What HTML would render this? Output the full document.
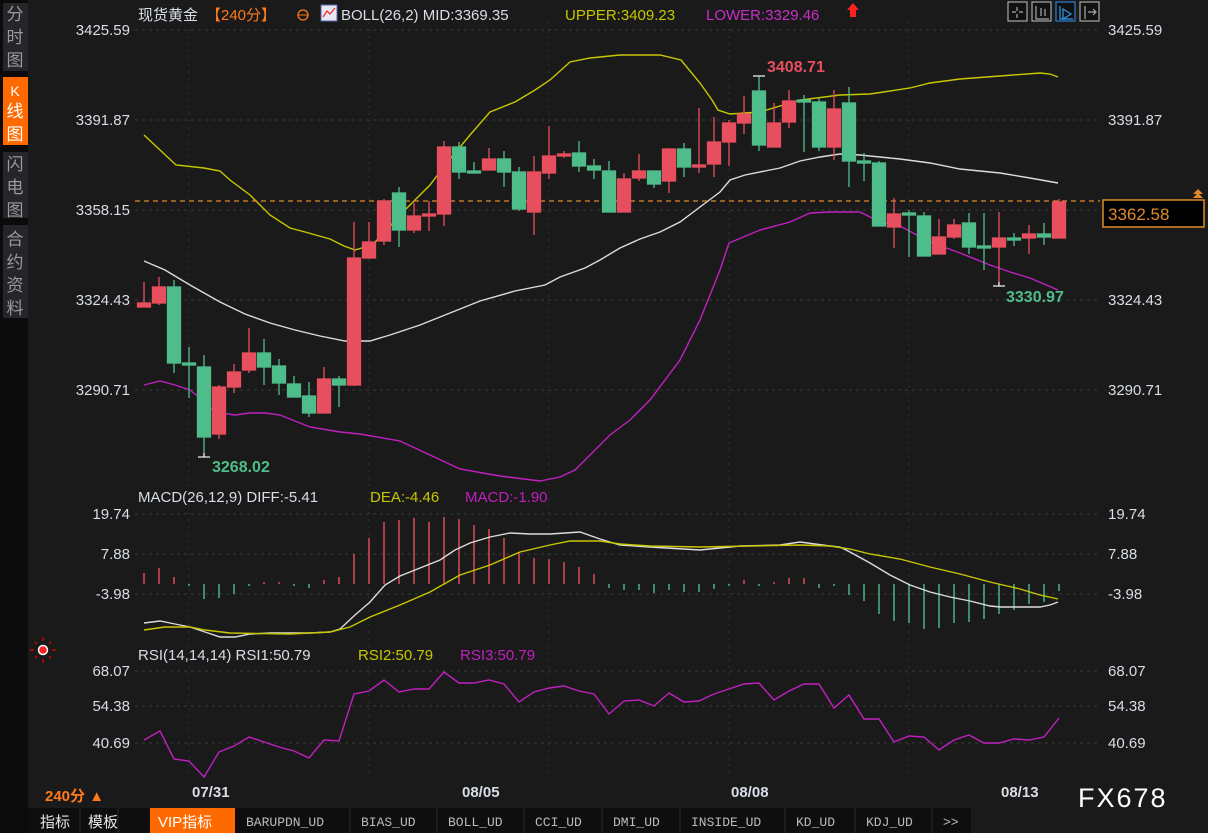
<!DOCTYPE html>
<html><head><meta charset="utf-8"><style>
html,body{margin:0;padding:0;background:#1a1a1a;width:1208px;height:833px;overflow:hidden}
body{font-family:"Liberation Sans","Noto Sans CJK SC",sans-serif}
</style></head><body>
<svg width="1208" height="833" xmlns="http://www.w3.org/2000/svg" style="position:absolute;left:0;top:0" font-family="Liberation Sans, Noto Sans CJK SC, sans-serif">
<rect width="1208" height="833" fill="#1a1a1a"/>
<rect x="0" y="0" width="28" height="833" fill="#0b0b0b"/>
<rect x="3" y="3" width="25" height="68" fill="#25262a"/>
<rect x="3" y="77" width="25" height="68" fill="#ff6a00"/>
<rect x="3" y="152" width="25" height="66" fill="#25262a"/>
<rect x="3" y="225" width="25" height="93" fill="#25262a"/>
<g font-size="17" fill="#9a9a9a" text-anchor="middle">
<text x="15" y="20">分</text><text x="15" y="43">时</text><text x="15" y="66">图</text>
<text x="15" y="96" fill="#fff" font-size="14">K</text><text x="15" y="117" fill="#fff">线</text><text x="15" y="140" fill="#fff">图</text>
<text x="15" y="170">闪</text><text x="15" y="193">电</text><text x="15" y="216">图</text>
<text x="15" y="245">合</text><text x="15" y="268">约</text><text x="15" y="291">资</text><text x="15" y="314">料</text>
</g>
<g stroke="#3a3a3a" stroke-width="1" stroke-dasharray="3,4">
<line x1="135" y1="30" x2="1100" y2="30"/><line x1="135" y1="120" x2="1100" y2="120"/><line x1="135" y1="210" x2="1100" y2="210"/><line x1="135" y1="300" x2="1100" y2="300"/><line x1="135" y1="390" x2="1100" y2="390"/>
<line x1="135" y1="514" x2="1100" y2="514"/><line x1="135" y1="554" x2="1100" y2="554"/><line x1="135" y1="594" x2="1100" y2="594"/>
<line x1="135" y1="671" x2="1100" y2="671"/><line x1="135" y1="706" x2="1100" y2="706"/><line x1="135" y1="743" x2="1100" y2="743"/>
</g>
<g stroke="#333" stroke-width="1" stroke-dasharray="2,5">
<line x1="189" y1="22" x2="189" y2="778"/><line x1="369" y1="22" x2="369" y2="778"/><line x1="549" y1="22" x2="549" y2="778"/><line x1="729" y1="22" x2="729" y2="778"/><line x1="909" y1="22" x2="909" y2="778"/>
</g>
<g font-size="15" fill="#d8dde6" text-anchor="end">
<text x="130" y="35">3425.59</text><text x="130" y="125">3391.87</text><text x="130" y="215">3358.15</text><text x="130" y="305">3324.43</text><text x="130" y="395">3290.71</text>
<text x="130" y="519">19.74</text><text x="130" y="559">7.88</text><text x="130" y="599">-3.98</text>
<text x="130" y="676">68.07</text><text x="130" y="711">54.38</text><text x="130" y="748">40.69</text>
</g>
<g font-size="15" fill="#d8dde6">
<text x="1108" y="35">3425.59</text><text x="1108" y="125">3391.87</text><text x="1108" y="305">3324.43</text><text x="1108" y="395">3290.71</text>
<text x="1108" y="519">19.74</text><text x="1108" y="559">7.88</text><text x="1108" y="599">-3.98</text>
<text x="1108" y="676">68.07</text><text x="1108" y="711">54.38</text><text x="1108" y="748">40.69</text>
</g>
<g font-size="15">
<text x="138" y="20" fill="#d8dde6">现货黄金</text>
<text x="206" y="20" fill="#ff7a1a">【240分】</text>
<circle cx="303" cy="15" r="5" fill="none" stroke="#ff7a1a" stroke-width="1.3"/><line x1="298" y1="15" x2="308" y2="15" stroke="#ff7a1a"/>
<rect x="321" y="5" width="16" height="16" fill="#e8e8f4" stroke="#5566aa"/><polyline points="323,17 327,11 330,14 335,8" fill="none" stroke="#e33" stroke-width="1.3"/>
<text x="341" y="20" fill="#d8dde6">BOLL(26,2) MID:3369.35</text>
<text x="565" y="20" fill="#c8c800">UPPER:3409.23</text>
<text x="706" y="20" fill="#c82fc8">LOWER:3329.46</text>
</g>
<path d="M853,3 L859,10 L856,10 L856,17 L850,17 L850,10 L847,10 Z" fill="#ff2020"/>
<g fill="none" stroke="#aaa" stroke-width="1.2">
<rect x="1008" y="2" width="19" height="19" fill="#111"/>
<rect x="1032" y="2" width="19" height="19" fill="#111"/>
<rect x="1056" y="2" width="19" height="19" fill="#111" stroke="#2f7ed8"/>
<rect x="1080" y="2" width="19" height="19" fill="#111"/>
<path d="M1017,7v4M1017,14v4M1012,12h4M1019,12h4"/>
<path d="M1036,6v13h13M1041,8v8M1045,9v7"/>
<path d="M1060,6v13h13M1063,9l8,5l-8,5z" stroke="#2f9be8"/>
<path d="M1085,6v13M1088,12h8M1093,9l3,3l-3,3"/>
</g>
<g fill="none" stroke-width="1.4">
<polyline stroke="#c8c800" points="144,135 176,165 204,168 220,171 230,180 250,195 260,205 270,215 290,228 305,232 330,239 344,246 355,250 365,247 375,242 385,232 400,215 415,200 430,185 445,165 470,135 490,112 515,102 535,90 550,80 570,62 590,58 620,55 660,55 681,60 700,83 712,100 718,110 730,114 760,112 800,100 840,95 870,94 910,88 930,83 960,79 1000,76 1040,73 1050,74 1058,77"/>
<polyline stroke="#dcdcdc" points="144,261 165,270 190,285 220,302 245,314 270,323 295,330 320,336 345,341 370,341 390,335 420,325 445,315 480,301 515,291 545,285 560,277 585,268 600,260 620,248 640,239 660,232 680,222 700,207 720,192 730,180 745,175 765,171 780,168 800,161 820,157 840,154 860,155 880,157 900,159 930,163 960,169 1000,173 1030,178 1058,183"/>
<polyline stroke="#c020c0" points="144,385 160,381 175,385 190,390 200,398 210,408 220,413 235,415 250,413 265,413 280,415 310,427 340,432 360,434 400,441 430,455 460,469 500,476 540,481 560,477 575,470 590,455 610,435 630,420 650,400 680,360 700,320 720,270 729,243 760,230 790,222 810,213 830,212 860,212 880,222 900,226 930,242 960,253 990,265 1010,272 1030,278 1058,290"/>
</g>
<line x1="135" y1="201" x2="1100" y2="201" stroke="#e08a2a" stroke-width="1.3" stroke-dasharray="5,4"/>
<g stroke-width="1.3">
<g stroke="#e84f5e" fill="#e84f5e">
<line x1="144" y1="282" x2="144" y2="307"/><rect x="137.5" y="303" width="13" height="4"/>
<line x1="159" y1="277" x2="159" y2="305"/><rect x="152.5" y="287" width="13" height="16"/>
<line x1="219" y1="385" x2="219" y2="439"/><rect x="212.5" y="387" width="13" height="47"/>
<line x1="234" y1="364" x2="234" y2="393"/><rect x="227.5" y="372" width="13" height="15"/>
<line x1="249" y1="328" x2="249" y2="373"/><rect x="242.5" y="353" width="13" height="17"/>
<line x1="324" y1="367" x2="324" y2="413"/><rect x="317.5" y="379" width="13" height="34"/>
<line x1="354" y1="222" x2="354" y2="386"/><rect x="347.5" y="258" width="13" height="127"/>
<line x1="369" y1="222" x2="369" y2="259"/><rect x="362.5" y="242" width="13" height="16"/>
<line x1="384" y1="199" x2="384" y2="245"/><rect x="377.5" y="201" width="13" height="40"/>
<line x1="414" y1="203" x2="414" y2="233"/><rect x="407.5" y="216" width="13" height="14"/>
<line x1="429" y1="201" x2="429" y2="231"/><rect x="422.5" y="214" width="13" height="2"/>
<line x1="444" y1="141" x2="444" y2="226"/><rect x="437.5" y="147" width="13" height="67"/>
<line x1="489" y1="148" x2="489" y2="170"/><rect x="482.5" y="159" width="13" height="11"/>
<line x1="534" y1="156" x2="534" y2="235"/><rect x="527.5" y="172" width="13" height="40"/>
<line x1="549" y1="126" x2="549" y2="179"/><rect x="542.5" y="156" width="13" height="17"/>
<line x1="564" y1="151" x2="564" y2="158"/><rect x="557.5" y="154" width="13" height="2"/>
<line x1="624" y1="173" x2="624" y2="212"/><rect x="617.5" y="179" width="13" height="33"/>
<line x1="639" y1="154" x2="639" y2="181"/><rect x="632.5" y="171" width="13" height="7"/>
<line x1="669" y1="148" x2="669" y2="193"/><rect x="662.5" y="149" width="13" height="32"/>
<line x1="699" y1="108" x2="699" y2="173"/><rect x="692.5" y="165" width="13" height="2"/>
<line x1="714" y1="117" x2="714" y2="177"/><rect x="707.5" y="142" width="13" height="22"/>
<line x1="729" y1="120" x2="729" y2="166"/><rect x="722.5" y="123" width="13" height="19"/>
<line x1="744" y1="96" x2="744" y2="134"/><rect x="737.5" y="114" width="13" height="9"/>
<line x1="774" y1="103" x2="774" y2="147"/><rect x="767.5" y="123" width="13" height="24"/>
<line x1="789" y1="90" x2="789" y2="128"/><rect x="782.5" y="101" width="13" height="21"/>
<line x1="834" y1="90" x2="834" y2="160"/><rect x="827.5" y="109" width="13" height="38"/>
<line x1="894" y1="198" x2="894" y2="248"/><rect x="887.5" y="214" width="13" height="13"/>
<line x1="939" y1="219" x2="939" y2="254"/><rect x="932.5" y="237" width="13" height="17"/>
<line x1="954" y1="219" x2="954" y2="239"/><rect x="947.5" y="225" width="13" height="12"/>
<line x1="999" y1="212" x2="999" y2="286"/><rect x="992.5" y="238" width="13" height="9"/>
<line x1="1029" y1="225" x2="1029" y2="254"/><rect x="1022.5" y="234" width="13" height="4"/>
<line x1="1059" y1="199" x2="1059" y2="238"/><rect x="1052.5" y="202" width="13" height="36"/>
</g>
<g stroke="#4fbd8a" fill="#4fbd8a">
<line x1="174" y1="280" x2="174" y2="373"/><rect x="167.5" y="287" width="13" height="76"/>
<line x1="189" y1="347" x2="189" y2="398"/><rect x="182.5" y="363" width="13" height="2"/>
<line x1="204" y1="355" x2="204" y2="457"/><rect x="197.5" y="367" width="13" height="70"/>
<line x1="264" y1="339" x2="264" y2="385"/><rect x="257.5" y="353" width="13" height="14"/>
<line x1="279" y1="359" x2="279" y2="395"/><rect x="272.5" y="366" width="13" height="17"/>
<line x1="294" y1="376" x2="294" y2="397"/><rect x="287.5" y="384" width="13" height="13"/>
<line x1="309" y1="382" x2="309" y2="417"/><rect x="302.5" y="396" width="13" height="17"/>
<line x1="339" y1="376" x2="339" y2="407"/><rect x="332.5" y="379" width="13" height="6"/>
<line x1="399" y1="187" x2="399" y2="247"/><rect x="392.5" y="193" width="13" height="37"/>
<line x1="459" y1="142" x2="459" y2="179"/><rect x="452.5" y="147" width="13" height="25"/>
<line x1="474" y1="162" x2="474" y2="173"/><rect x="467.5" y="171" width="13" height="2"/>
<line x1="504" y1="151" x2="504" y2="187"/><rect x="497.5" y="159" width="13" height="13"/>
<line x1="519" y1="167" x2="519" y2="211"/><rect x="512.5" y="172" width="13" height="37"/>
<line x1="579" y1="141" x2="579" y2="172"/><rect x="572.5" y="153" width="13" height="13"/>
<line x1="594" y1="159" x2="594" y2="179"/><rect x="587.5" y="166" width="13" height="4"/>
<line x1="609" y1="161" x2="609" y2="212"/><rect x="602.5" y="171" width="13" height="41"/>
<line x1="654" y1="171" x2="654" y2="188"/><rect x="647.5" y="171" width="13" height="13"/>
<line x1="684" y1="143" x2="684" y2="177"/><rect x="677.5" y="149" width="13" height="18"/>
<line x1="759" y1="76" x2="759" y2="151"/><rect x="752.5" y="91" width="13" height="54"/>
<line x1="804" y1="95" x2="804" y2="152"/><rect x="797.5" y="100" width="13" height="2"/>
<line x1="819" y1="98" x2="819" y2="151"/><rect x="812.5" y="102" width="13" height="45"/>
<line x1="849" y1="87" x2="849" y2="187"/><rect x="842.5" y="103" width="13" height="58"/>
<line x1="864" y1="153" x2="864" y2="181"/><rect x="857.5" y="161" width="13" height="2"/>
<line x1="879" y1="161" x2="879" y2="226"/><rect x="872.5" y="163" width="13" height="63"/>
<line x1="909" y1="210" x2="909" y2="257"/><rect x="902.5" y="213" width="13" height="2"/>
<line x1="924" y1="212" x2="924" y2="256"/><rect x="917.5" y="216" width="13" height="40"/>
<line x1="969" y1="213" x2="969" y2="254"/><rect x="962.5" y="223" width="13" height="24"/>
<line x1="984" y1="213" x2="984" y2="270"/><rect x="977.5" y="246" width="13" height="2"/>
<line x1="1014" y1="233" x2="1014" y2="246"/><rect x="1007.5" y="238" width="13" height="2"/>
<line x1="1044" y1="223" x2="1044" y2="245"/><rect x="1037.5" y="234" width="13" height="3"/>
</g>
</g>
<g stroke="#eee" stroke-width="1.2"><path d="M753,76h12M204,457v-4M198,457h12M993,286h12M999,286v-4"/></g>
<text x="767" y="72" font-size="16" font-weight="bold" fill="#e84f5e">3408.71</text>
<text x="212" y="472" font-size="16" font-weight="bold" fill="#4fbd8a">3268.02</text>
<text x="1006" y="302" font-size="16" font-weight="bold" fill="#4fbd8a">3330.97</text>
<rect x="1103" y="200" width="101" height="27" fill="#000" stroke="#e08a2a" stroke-width="1.5"/>
<text x="1108" y="220" font-size="17" fill="#e08a2a">3362.58</text>
<path d="M1193,194l5,-5l5,5zM1193,198l5,-5l5,5z" fill="#e08a2a"/>
<g font-size="15">
<text x="138" y="502" fill="#d8dde6">MACD(26,12,9) DIFF:-5.41</text>
<text x="370" y="502" fill="#c8c800">DEA:-4.46</text>
<text x="465" y="502" fill="#c020c0">MACD:-1.90</text>
</g>
<g stroke-width="1.4">
<g stroke="#e84f5e">
<path d="M144,584V573M159,584V568M174,584V577M264,584V582M279,584V582M324,584V580M339,584V577M354,584V554M369,584V538M384,584V522M399,584V520M414,584V518M429,584V522M444,584V517M459,584V519M474,584V525M489,584V529M504,584V538M519,584V552M534,584V558M549,584V559M564,584V562M579,584V567M594,584V574M744,584V580M774,584V582M789,584V578M804,584V578"/>
</g>
<g stroke="#4fbd8a">
<path d="M189,584V586M204,584V599M219,584V598M234,584V594M249,584V586M294,584V586M309,584V588M609,584V588M624,584V590M639,584V590M654,584V593M669,584V590M684,584V592M699,584V592M714,584V589M729,584V586M759,584V586M819,584V588M834,584V586M849,584V595M864,584V601M879,584V614M894,584V621M909,584V623M924,584V629M939,584V628M954,584V623M969,584V622M984,584V619M999,584V614M1014,584V610M1029,584V604M1044,584V602M1059,584V591"/>
</g>
</g>
<g fill="none" stroke-width="1.4">
<polyline stroke="#dcdcdc" points="144,623 160,621 175,624 190,627 205,632 220,637 235,637 250,634 270,633 310,633 330,632 340,629 355,615 370,602 385,585 400,576 420,568 440,560 455,550 470,543 490,537 510,533 530,534 550,534 580,532 600,539 620,545 650,547 700,550 740,546 780,545 800,542 830,546 840,547 850,552 870,563 890,575 910,585 930,592 950,597 970,601 990,606 1000,607 1040,607 1050,605 1058,602"/>
<polyline stroke="#c8c800" points="144,630 165,627 190,627 205,630 230,633 290,634 330,632 350,627 370,617 400,605 430,592 460,575 490,565 520,552 550,545 570,541 600,541 620,544 650,546 700,547 750,546 800,545 830,546 850,549 870,554 900,559 930,567 960,574 990,582 1020,589 1040,595 1058,599"/>
</g>
<g stroke="#e00" stroke-width="1.2"><path d="M34,650h-4M52,650h4M43,641v-4M43,659v4M37,644l-2,-2M49,644l2,-2M37,656l-2,2M49,656l2,2"/></g>
<circle cx="43" cy="650" r="4.5" fill="#f22" stroke="#fff" stroke-width="1.5"/>
<g font-size="15">
<text x="138" y="660" fill="#d8dde6">RSI(14,14,14) RSI1:50.79</text>
<text x="358" y="660" fill="#c8c800">RSI2:50.79</text>
<text x="460" y="660" fill="#c020c0">RSI3:50.79</text>
</g>
<polyline fill="none" stroke="#c020c0" stroke-width="1.4" points="144,740 160,731 174,759 189,761 204,777 219,752 234,746 249,737 264,742 279,747 294,751 309,758 324,740 339,741 354,694 369,691 384,680 399,692 414,689 429,689 444,672 459,683 474,683 489,680 504,684 519,702 534,692 549,688 564,686 579,691 594,694 609,714 624,701 639,700 654,706 669,693 684,702 699,701 714,694 729,689 744,684 759,683 774,700 789,691 804,684 819,684 834,708 849,695 864,719 879,719 894,742 909,736 924,737 939,750 954,740 969,735 984,743 999,743 1014,739 1029,740 1044,737 1059,718"/>
<text x="45" y="801" font-size="15" font-weight="bold" fill="#ff7a1a">240分 ▲</text>
<g font-size="15" font-weight="bold" fill="#d8dde6">
<text x="192" y="797">07/31</text><text x="462" y="797">08/05</text><text x="731" y="797">08/08</text><text x="1001" y="797">08/13</text>
</g>
<text x="1078" y="807" font-size="27" fill="#fff" letter-spacing="2">FX678</text>
<rect x="28" y="808" width="945" height="25" fill="#0e0e0e"/>
<g stroke="#2a2a2a"><path d="M80,808v25M118,808v25M350,808v25M437,808v25M524,808v25M602,808v25M680,808v25M785,808v25M855,808v25M932,808v25M972,808v25"/></g>
<rect x="150" y="808" width="85" height="25" fill="#ff6a00"/>
<g font-size="15" fill="#e6e6e6">
<text x="40" y="827">指标</text><text x="88" y="827">模板</text><text x="158" y="827" fill="#fff">VIP指标</text>
</g>
<g font-size="13" fill="#bbb" font-family="Liberation Mono, monospace">
<text x="246" y="826">BARUPDN_UD</text><text x="361" y="826">BIAS_UD</text><text x="448" y="826">BOLL_UD</text><text x="535" y="826">CCI_UD</text><text x="613" y="826">DMI_UD</text><text x="691" y="826">INSIDE_UD</text><text x="796" y="826">KD_UD</text><text x="866" y="826">KDJ_UD</text><text x="943" y="826">&gt;&gt;</text>
</g>
</svg>
</body></html>
